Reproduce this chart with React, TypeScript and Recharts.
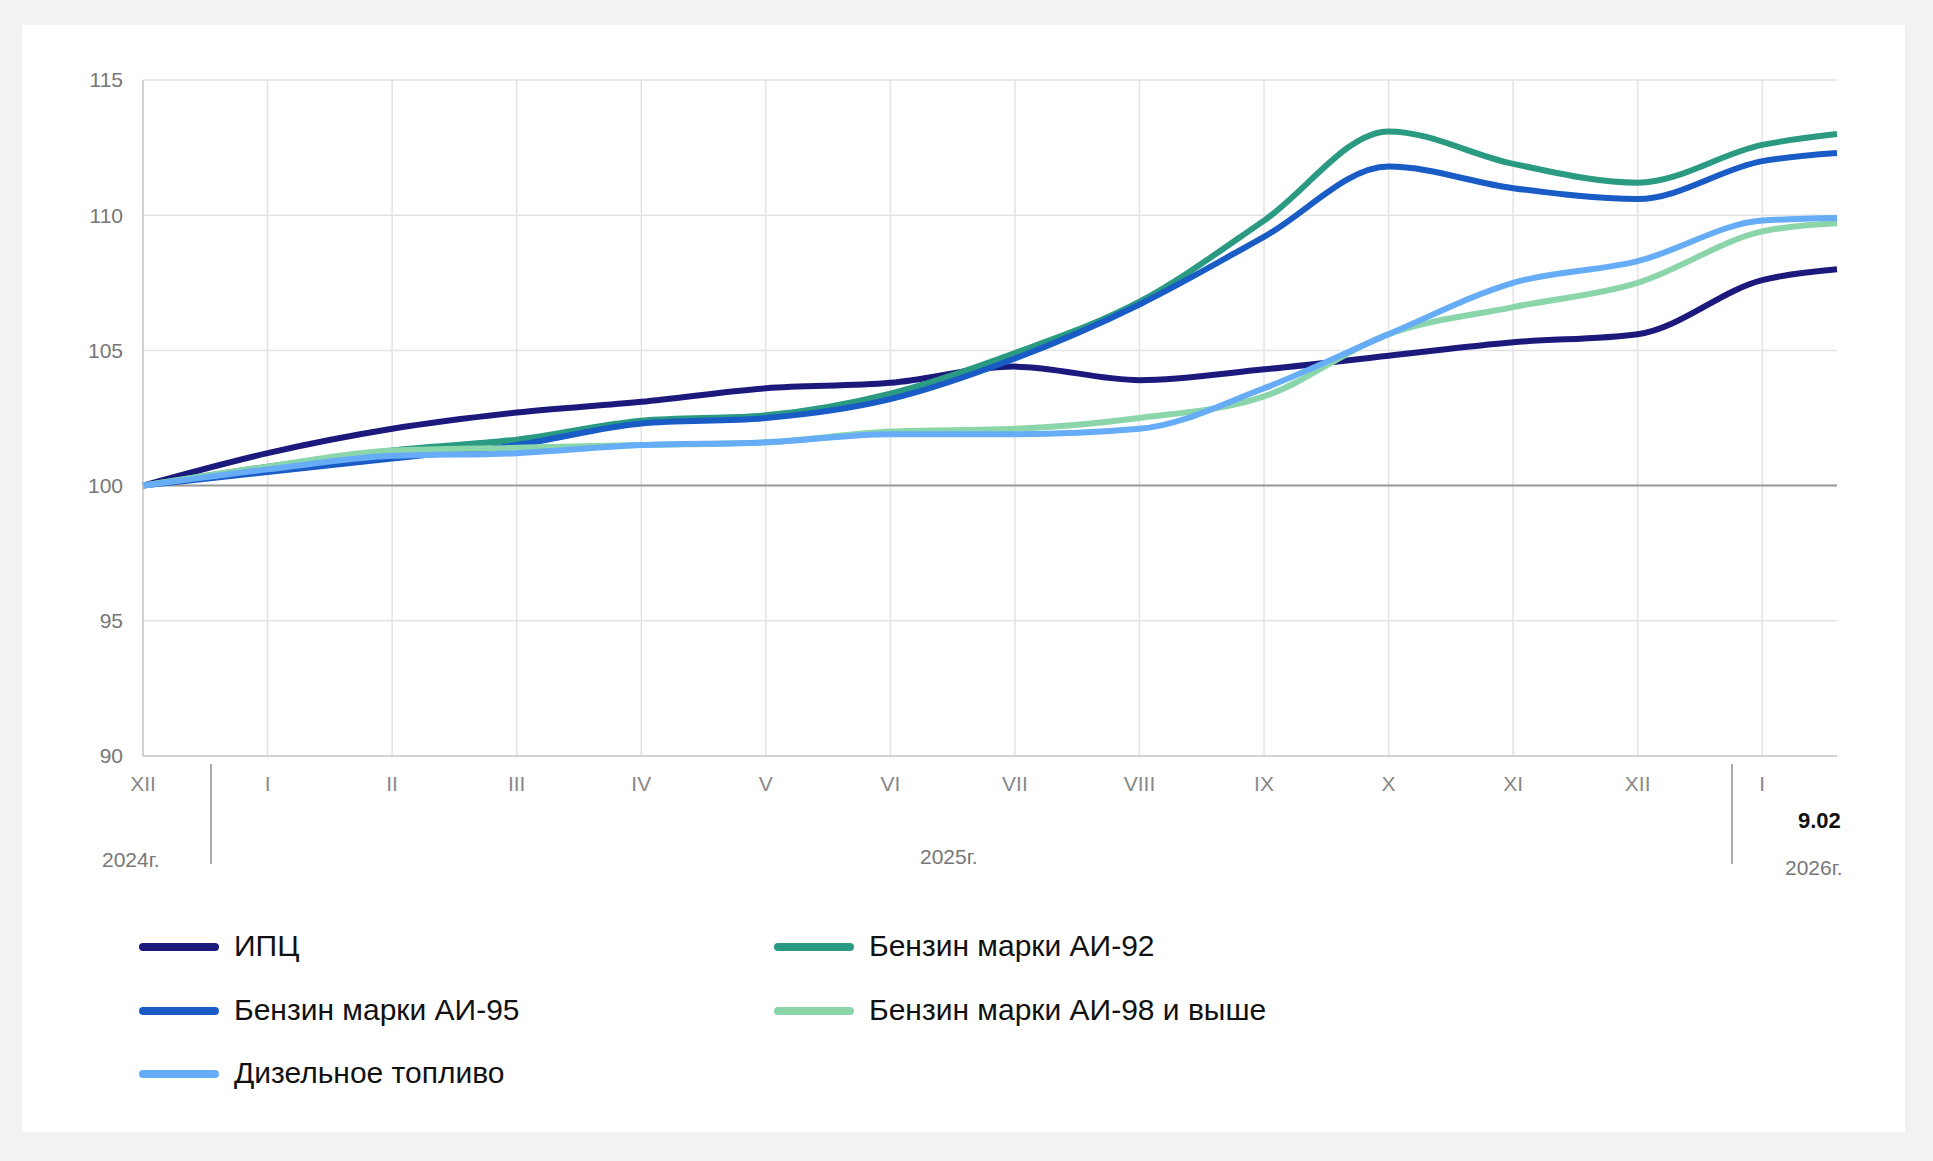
import { LineChart, Line, XAxis, YAxis, CartesianGrid, ReferenceLine } from "recharts";

const monthLabels = ["XII", "I", "II", "III", "IV", "V", "VI", "VII", "VIII", "IX", "X", "XI", "XII", "I"];
const xPos = [0, 1, 2, 3, 4, 5, 6, 7, 8, 9, 10, 11, 12, 13, 13.6];
const cpi = [100, 101.2, 102.1, 102.7, 103.1, 103.6, 103.8, 104.4, 103.9, 104.3, 104.8, 105.3, 105.6, 107.6, 108.0];
const ai92 = [100, 100.7, 101.3, 101.7, 102.4, 102.6, 103.4, 104.9, 106.8, 109.8, 113.1, 111.9, 111.2, 112.6, 113.0];
const ai95 = [100, 100.5, 101.0, 101.5, 102.3, 102.5, 103.2, 104.7, 106.7, 109.2, 111.8, 111.0, 110.6, 112.0, 112.3];
const ai98 = [100, 100.7, 101.3, 101.4, 101.5, 101.6, 102.0, 102.1, 102.5, 103.3, 105.6, 106.6, 107.5, 109.4, 109.7];
const diesel = [100, 100.6, 101.1, 101.2, 101.5, 101.6, 101.9, 101.9, 102.1, 103.6, 105.6, 107.5, 108.3, 109.8, 109.9];
const yTicks = [90, 95, 100, 105, 110, 115];

const series = [
  { key: "cpi", name: "ИПЦ", color: "#1b1a7c" },
  { key: "ai92", name: "Бензин марки АИ-92", color: "#2a9a82" },
  { key: "ai95", name: "Бензин марки АИ-95", color: "#1a5cc6" },
  { key: "ai98", name: "Бензин марки АИ-98 и выше", color: "#8ad6aa" },
  { key: "diesel", name: "Дизельное топливо", color: "#66acf6" },
];

const data = xPos.map((x, i) => ({
  x,
  cpi: cpi[i],
  ai92: ai92[i],
  ai95: ai95[i],
  ai98: ai98[i],
  diesel: diesel[i],
}));

const FONT = "Arial, 'Liberation Sans', sans-serif";
const txt = (left: number, top: number, s: string, extra: any = {}) => (
  <div style={{ position: "absolute", left, top, fontFamily: FONT, fontSize: 21, color: "#777", whiteSpace: "nowrap", ...extra }}>{s}</div>
);

const legendPos = [
  [139, 947], [774, 947], [139, 1011], [774, 1011], [139, 1074],
];

export default function App() {
  return (
    <div style={{ position: "absolute", left: 0, top: 0, width: 1933, height: 1161, background: "#f2f2f2", fontFamily: FONT }}>
      <div style={{ position: "absolute", left: 22, top: 25, width: 1883, height: 1107, background: "#fff" }} />
      <div style={{ position: "absolute", left: 0, top: 0 }}>
        <LineChart width={1933} height={1161} data={data} margin={{ top: 80, right: 96, bottom: 365, left: 83 }}>
          <CartesianGrid stroke="#e3e3e3" strokeWidth={1.5} verticalValues={[0, 1, 2, 3, 4, 5, 6, 7, 8, 9, 10, 11, 12, 13]} />
          <XAxis
            dataKey="x"
            type="number"
            domain={[0, 13.6]}
            ticks={[0, 1, 2, 3, 4, 5, 6, 7, 8, 9, 10, 11, 12, 13]}
            tickFormatter={(v) => monthLabels[v] ?? ""}
            tick={{ fontSize: 21, fill: "#888", fontFamily: FONT }}
            tickLine={false}
            stroke="#bbb"
            height={40}
            tickMargin={14}
          />
          <YAxis
            domain={[90, 115]}
            ticks={yTicks}
            tick={{ fontSize: 21, fill: "#777", fontFamily: FONT }}
            tickLine={false}
            stroke="#bbb"
            width={60}
            tickMargin={14}
          />
          <ReferenceLine y={100} stroke="#999" strokeWidth={2} />
          {series.map((s) => (
            <Line
              key={s.key}
              type="monotone"
              dataKey={s.key}
              stroke={s.color}
              strokeWidth={6}
              dot={false}
              isAnimationActive={false}
            />
          ))}
        </LineChart>
      </div>
      <div style={{ position: "absolute", left: 210, top: 764, width: 1.5, height: 100, background: "#aaa" }} />
      <div style={{ position: "absolute", left: 1731, top: 764, width: 1.5, height: 100, background: "#aaa" }} />
      {txt(1798, 808, "9.02", { color: "#111", fontWeight: "bold", fontSize: 22 })}
      {txt(102, 848, "2024г.")}
      {txt(920, 845, "2025г.")}
      {txt(1785, 856, "2026г.")}
      {series.map((s, i) => (
        <div key={s.key}>
          <div style={{ position: "absolute", left: legendPos[i][0], top: legendPos[i][1] - 4, width: 80, height: 8, borderRadius: 4, background: s.color }} />
          {txt(legendPos[i][0] + 95, legendPos[i][1] - 18, s.name, { color: "#111", fontSize: 30 })}
        </div>
      ))}
    </div>
  );
}
